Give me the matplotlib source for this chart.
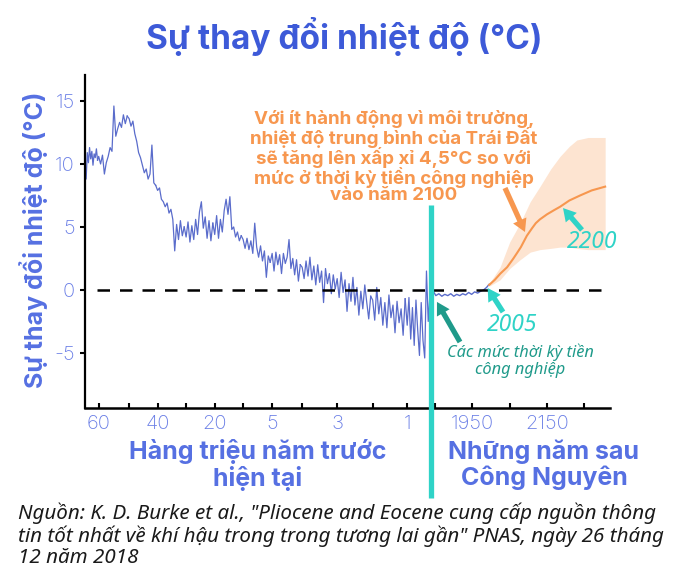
import numpy as np
import matplotlib
matplotlib.use("Agg")
import matplotlib.pyplot as plt
from matplotlib.lines import Line2D

plt.rcParams['font.family'] = ['Inter', 'DejaVu Sans']
plt.rcParams['axes.unicode_minus'] = False

# ---- data -------------------------------------------------------------
# million-years-ago scale: the chart stretches the recent past (anchor ages)
scale_myr = [0, 1, 2, 3, 4, 5, 10, 20, 30, 40, 50, 60, 65]
scale_pos = [441, 407, 372.5, 337, 302, 272, 243, 214.6, 186, 157.5, 129, 98.6, 83.4]

# temperature readings, one list per age segment (older -> younger)
seg_edges = [64.5, 60, 50, 40, 30, 20, 10, 5, 4, 3, 2, 1, 0.33]
seg_temps = [
    [10.2, 8.8, 10.9, 10.1, 11.3, 10.4, 11.0, 9.9, 10.8, 10.5, 11.2, 10.3],
    [10.6, 10.0, 10.7, 9.2, 10.1, 10.6, 11.3, 11.0, 14.6, 12.2, 12.8, 13.3, 12.9, 13.9, 13.2, 13.8],
    [13.6, 13.0, 13.4, 12.4, 11.8, 10.9, 10.5, 9.9, 9.3, 9.6, 8.8, 9.2, 11.5, 8.5, 8.3],
    [7.9, 8.1, 7.2, 7.0, 6.6, 6.9, 6.1, 6.4, 5.6, 3.1, 5.2, 4.0, 5.5, 4.3, 5.0],
    [4.2, 5.4, 3.8, 5.1, 4.0, 5.6, 4.4, 6.2, 7.0, 4.9, 5.8, 4.1, 5.5, 3.9, 5.3],
    [4.4, 5.9, 4.1, 5.6, 4.6, 6.3, 7.2, 6.0, 7.4, 4.8, 5.0, 4.2, 4.6, 3.9, 4.3],
    [4.0, 3.3, 4.1, 3.2, 3.9, 2.9, 5.3, 3.4, 2.6, 3.5, 2.3, 3.1, 1.0, 2.7, 2.2],
    [2.9, 1.5, 3.0, 2.0, 2.8, 1.3, 2.9, 2.1, 2.6, 4.0, 1.7, 2.5, 1.2, 2.4, 0.7, 2.0],
    [1.8, 0.9, 2.3, 1.1, 2.6, 0.8, 1.9, 0.4, 2.0, 0.6, 1.5, -1.0, 1.7, 0.5, 1.3, -0.3, 1.2, 0.1],
    [0.9, -0.6, 1.4, -0.2, 0.8, -1.7, 0.5, -0.9, 1.0, -1.2, 0.2, -2.0, -0.1, -1.5, 0.4, -1.0, -2.3, -0.5],
    [-0.8, -2.4, 0.2, -1.9, -0.6, -2.8, -1.0, -3.0, -0.4, -2.2, -1.2, -3.4, -0.9, -2.6, -1.5, -3.6, -0.7],
    [-2.8, -0.6, -3.9, -1.4, -4.4, -0.8, -3.2, -5.2, -1.0, -4.0, -5.4, 1.5, -2.5, -0.3],
]

# instrumental record (years AD)
obs_years = [1845, 1852, 1860, 1868, 1876, 1884, 1892, 1900, 1908, 1916, 1924, 1932,
             1940, 1948, 1956, 1964, 1972, 1980, 1988, 1995]
obs_temps = [-0.1, -0.45, -0.3, -0.5, -0.35, -0.45, -0.3, -0.5, -0.35, -0.45, -0.3,
             -0.4, -0.2, -0.35, -0.15, -0.25, -0.1, 0.0, 0.2, 0.45]

# projection
proj_years = [1995, 2010, 2025, 2043, 2060, 2069, 2080, 2096, 2110, 2120, 2131, 2150,
              2170, 2185, 2210, 2239, 2270, 2306]
proj_temps = [0.4, 0.8, 1.3, 1.8, 2.5, 2.9, 3.4, 4.3, 4.9, 5.3, 5.6, 6.0, 6.35, 6.6,
              7.1, 7.5, 7.9, 8.2]
band_years = [1995, 2024, 2050, 2078, 2105, 2131, 2160, 2185, 2210, 2230, 2260, 2306]
band_hi = [0.5, 1.8, 3.8, 5.3, 7.0, 8.2, 9.6, 10.6, 11.4, 11.9, 12.1, 12.1]
band_lo = [0.3, 0.8, 1.7, 2.4, 3.0, 3.2, 3.3, 3.4, 3.4, 3.3, 3.2, 3.2]

myr_ticks = [60, 50, 40, 30, 20, 10, 5, 4, 3, 2, 1]
myr_labels = ['60', '', '40', '', '20', '', '5', '', '3', '', '1']
year_ticks = [1850, 1950, 2050, 2150, 2250]
year_labels = ['', '1950', '', '2150', '']
y_ticks = [-5, 0, 5, 10, 15]

# ---- colours ----------------------------------------------------------
BLUE_T = '#3d5ad8'
BLUE_L = '#5670e2'
BLUE_TK = '#6a7ee6'
LINE = '#5a6ccb'
ORANGE = '#f7974f'
BAND = '#fde4d1'
CYAN = '#2fd3c7'
TEAL = '#1f9a8a'

fig = plt.figure(figsize=(7, 5.72), dpi=100)
W, H = 700, 572


def fx(x):
    return x / W


def fy(y):
    return 1 - y / H


bottom, top = fy(408), fy(75)
ax1 = fig.add_axes([fx(85), bottom, fx(431) - fx(85), top - bottom])
ax2 = fig.add_axes([fx(431), bottom, fx(610) - fx(431), top - bottom], sharey=ax1)

neg_pos = [-p for p in scale_pos]


def fwd(x):
    return np.interp(x, scale_myr, neg_pos)


def inv(p):
    return np.interp(p, neg_pos, scale_myr)


ax1.set_xscale('function', functions=(fwd, inv))
ax1.set_xlim(64.5, 0.3)
ax2.set_xlim(1839, 2319)
ax1.set_ylim(-9.37, 17.06)

# paleo series
for i, temps in enumerate(seg_temps):
    ages = np.linspace(seg_edges[i], seg_edges[i + 1], len(temps) + 1)[:-1]
    if i == len(seg_temps) - 1:
        ages = np.linspace(seg_edges[i], seg_edges[i + 1], len(temps))
    if i > 0:
        ages = np.concatenate([[prev_age], ages])
        temps = [prev_t] + temps
    ax1.plot(ages, temps, color=LINE, lw=0.9, zorder=2)
    prev_age, prev_t = ages[-1], temps[-1]

ax2.fill_between(band_years, band_lo, band_hi, color=BAND, lw=0, zorder=1)
ax2.plot(obs_years, obs_temps, color=LINE, lw=1.0, zorder=2)
ax2.plot(proj_years, proj_temps, color=ORANGE, lw=1.5, zorder=2)

dash = (0, (5, 4))
ax1.hlines(0, 60.5, 0.3, colors='black', lw=1.8, linestyles=dash, zorder=3)
ax2.hlines(0, 1839, 2319, colors='black', lw=1.8, linestyles=dash, zorder=3)

# axes styling
for a in (ax1, ax2):
    a.set_facecolor('none')
    a.spines['top'].set_visible(False)
    a.spines['right'].set_visible(False)
    a.spines['bottom'].set_linewidth(1.8)
    a.tick_params(axis='x', direction='in', length=3.5, width=1.5, pad=5,
                  labelsize=14.5, labelcolor=BLUE_TK)
ax1.spines['left'].set_linewidth(1.6)
ax2.spines['left'].set_visible(False)
ax2.tick_params(axis='y', left=False, labelleft=False)
ax1.tick_params(axis='y', direction='out', length=3.5, width=1.5, pad=4,
                labelsize=14.5, labelcolor=BLUE_TK)
ax1.set_yticks(y_ticks)
ax1.set_xticks(myr_ticks)
ax1.set_xticklabels(myr_labels)
ax1.xaxis.set_minor_locator(matplotlib.ticker.NullLocator())
ax2.set_xticks(year_ticks)
ax2.set_xticklabels(year_labels)
for lab in ax1.get_xticklabels() + ax1.get_yticklabels() + ax2.get_xticklabels():
    lab.set_fontweight('light')

# texts
fig.text(fx(344), fy(36), 'Sự thay đổi nhiệt độ (°C)', ha='center', va='center',
         fontsize=24, fontweight='bold', color=BLUE_T)
fig.text(fx(34), fy(240), 'Sự thay đổi nhiệt độ (°C)', ha='center', va='center',
         rotation=90, fontsize=18, fontweight='bold', color=BLUE_L)
fig.text(fx(258), fy(465), 'Hàng triệu năm trước\nhiện tại', ha='center', va='center',
         fontsize=18, fontweight='bold', color=BLUE_L, linespacing=1.08)
fig.text(fx(544), fy(465), 'Những năm sau\nCông Nguyên', ha='center', va='center',
         fontsize=18, fontweight='bold', color=BLUE_L, linespacing=1.08)
fig.text(fx(394), fy(157),
         'Với ít hành động vì môi trường,\nnhiệt độ trung bình của Trái Đất\n'
         'sẽ tăng lên xấp xỉ 4,5°C so với\nmức ở thời kỳ tiền công nghiệp\nvào năm 2100',
         ha='center', va='center', fontsize=13.5, fontweight='bold', color=ORANGE,
         linespacing=0.93)

ital = ['Noto Sans', 'DejaVu Sans']
fig.text(fx(592), fy(242), '2200', ha='center', va='center', fontsize=16.5,
         style='italic', family=ital, color=CYAN)
fig.text(fx(512), fy(325), '2005', ha='center', va='center', fontsize=16.5,
         style='italic', family=ital, color=CYAN)
fig.text(fx(520), fy(361), 'Các mức thời kỳ tiền\ncông nghiệp', ha='center', va='center',
         fontsize=11.8, style='italic', family=ital, color=TEAL, linespacing=1.1)
fig.text(fx(18), fy(502),
         'Nguồn: K. D. Burke et al., "Pliocene and Eocene cung cấp nguồn thông\n'
         'tin tốt nhất về khí hậu trong trong tương lai gần" PNAS, ngày 26 tháng\n'
         '12 năm 2018',
         ha='left', va='top', fontsize=14.8, style='italic', family=ital, color='#1a1a1a',
         linespacing=1.1)

# arrows
arrow_kw = dict(arrowstyle='simple,head_length=0.65,head_width=0.75,tail_width=0.27',
                mutation_scale=14, lw=0, shrinkA=0, shrinkB=0)
ax2.annotate('', xy=(2091, 4.6), xytext=(fx(505), fy(188)), textcoords='figure fraction',
             arrowprops=dict(color=ORANGE, **arrow_kw), zorder=5)
ax2.annotate('', xy=(2193, 6.5), xytext=(fx(582), fy(230)), textcoords='figure fraction',
             arrowprops=dict(color=CYAN, **arrow_kw), zorder=5)
ax2.annotate('', xy=(1991, 0.15), xytext=(fx(503), fy(312)), textcoords='figure fraction',
             arrowprops=dict(color=CYAN, **arrow_kw), zorder=5)
ax2.annotate('', xy=(1855, -0.95), xytext=(fx(460), fy(342)), textcoords='figure fraction',
             arrowprops=dict(color=TEAL, **arrow_kw), zorder=5)

# divider between the two time scales
fig.add_artist(Line2D([fx(431), fx(431)], [fy(205), fy(498)], color=CYAN, lw=3.8,
                      solid_capstyle='butt', zorder=10))

fig.savefig('out.png', dpi=100)
